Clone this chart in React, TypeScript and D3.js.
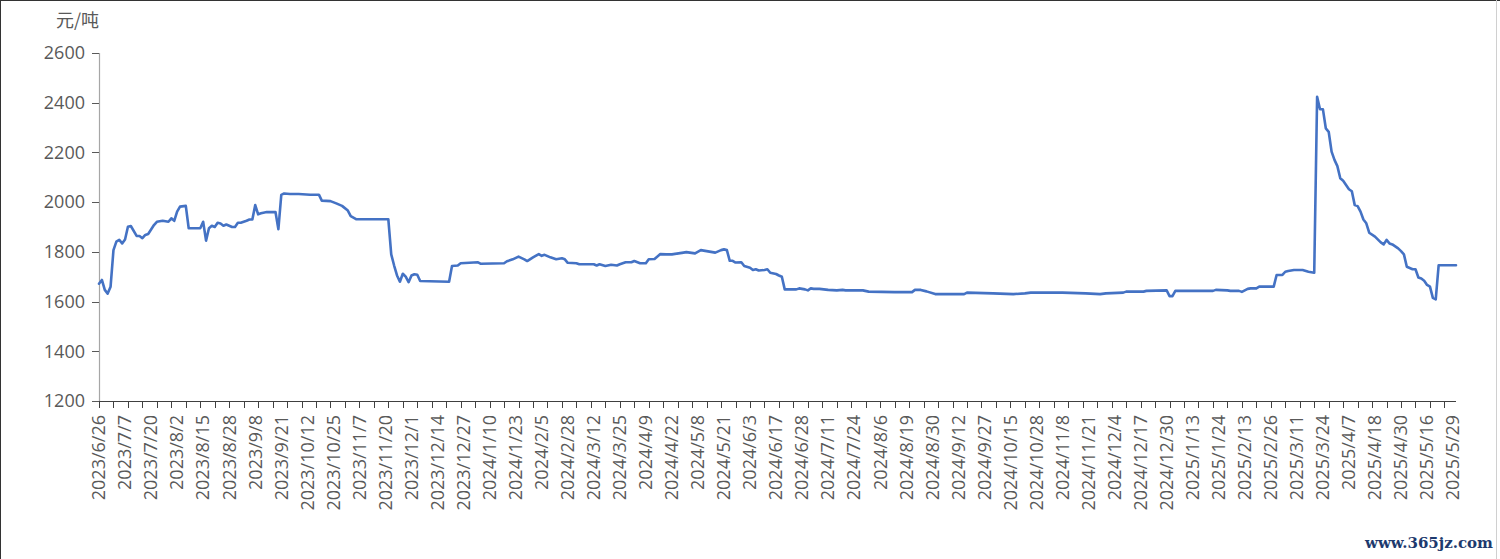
import React from "react";
import * as d3 from "d3";

// Category axis: trading days from 2023/6/26 (index 0) to 2025/5/30 (index 469)
const categoryCount = 470;
const labelStep = 9;
const tickStep = 5;

const xLabels = [
  "2023/6/26","2023/7/7","2023/7/20","2023/8/2","2023/8/15","2023/8/28","2023/9/8","2023/9/21",
  "2023/10/12","2023/10/25","2023/11/7","2023/11/20","2023/12/1","2023/12/14","2023/12/27",
  "2024/1/10","2024/1/23","2024/2/5","2024/2/28","2024/3/12","2024/3/25","2024/4/9","2024/4/22",
  "2024/5/8","2024/5/21","2024/6/3","2024/6/17","2024/6/28","2024/7/11","2024/7/24","2024/8/6",
  "2024/8/19","2024/8/30","2024/9/12","2024/9/27","2024/10/15","2024/10/28","2024/11/8",
  "2024/11/21","2024/12/4","2024/12/17","2024/12/30","2025/1/13","2025/1/24","2025/2/13",
  "2025/2/26","2025/3/11","2025/3/24","2025/4/7","2025/4/18","2025/4/30","2025/5/16","2025/5/29",
];

const yTicks = [1200, 1400, 1600, 1800, 2000, 2200, 2400, 2600];
const unitLabel = "元/吨";

// price readings (trading-day index, 元/吨)
const pointDay = [
  0,1,2,3,4,5,6,7,8,9,10,11,13,14,15,16,17,19,20,22,24,25,26,27,28,30,31,35,36,37,38,39,40,41,42,43,44,45,46,47,48,49,51,52,53,54,55,56,58,61,62,63,64,
  66,69,73,76,77,80,82,84,86,87,89,100,101,102,103,104,105,106,107,108,109,110,111,121,122,124,125,131,132,
  140,141,143,145,147,148,150,152,153,154,156,158,160,161,162,165,166,171,172,173,175,177,179,180,182,184,185,187,189,190,192,194,196,198,
  202,203,206,208,210,213,215,216,217,218,219,220,222,223,225,226,227,228,230,231,232,234,235,236,237,
  241,242,244,245,246,247,249,252,255,257,258,264,266,275,281,282,284,286,289,299,300,309,316,320,322,333,341,346,348,354,355,361,362,369,370,371,372,
  385,386,390,391,394,395,397,398,400,401,406,407,409,410,411,413,416,418,420,
  421,422,423,424,425,426,427,428,429,430,431,432,433,434,435,436,437,438,439,441,443,444,445,446,447,449,450,451,452,454,455,456,457,458,459,460,461,462,463,469,
];
const pointPrice = [
  1672,1687,1647,1632,1660,1807,1841,1848,1834,1850,1901,1904,1864,1864,1855,1868,1872,1908,1921,1925,1921,1935,1925,1962,1982,1985,1895,1895,1921,1845,1895,1905,1900,1917,1914,1905,1910,1905,1900,1900,1917,1917,1925,1930,1930,1988,1951,1955,1960,1960,1891,2029,2035,
  2033,2033,2030,2030,2006,2004,1995,1985,1966,1944,1931,1931,1790,1745,1705,1680,1712,1700,1678,1705,1710,1708,1683,1680,1743,1745,1754,1758,1752,
  1754,1762,1770,1781,1770,1763,1778,1791,1784,1788,1778,1770,1774,1770,1756,1754,1750,1750,1745,1750,1743,1748,1745,1750,1758,1758,1763,1754,1754,1770,1771,1791,1790,1790,
  1797,1799,1794,1807,1803,1797,1807,1810,1807,1764,1764,1757,1758,1743,1736,1727,1730,1725,1727,1730,1716,1711,1705,1700,1649,
  1649,1653,1649,1645,1653,1651,1651,1647,1645,1647,1645,1645,1640,1638,1638,1647,1647,1641,1630,1630,1636,1633,1630,1633,1636,1636,1633,1630,1633,1636,1640,1640,1643,1645,1622,1622,1643,
  1643,1647,1645,1643,1643,1639,1651,1653,1653,1660,1660,1707,1707,1720,1723,1727,1727,1720,1716,
  2424,2374,2374,2297,2283,2203,2170,2145,2096,2086,2069,2052,2044,1988,1984,1962,1930,1915,1877,1861,1838,1830,1848,1834,1830,1814,1803,1790,1740,1730,1730,1697,1693,1684,1667,1660,1615,1609,1746,1746,
];

const W = 1500;
const H = 559;
const plotLeft = 99;
const plotRight = 1456;
const plotTop = 53;
const plotBottom = 401;

export default function App() {
  const x = d3.scaleLinear().domain([0, categoryCount - 1]).range([plotLeft, plotRight]);
  const y = d3.scaleLinear().domain([1200, 2600]).range([plotBottom, plotTop]);

  const data = pointDay.map((d, i) => [d, pointPrice[i]] as [number, number]);
  const line = d3
    .line<[number, number]>()
    .x((d) => x(d[0]))
    .y((d) => y(d[1]))
    .curve(d3.curveLinear);

  const tickIdx = d3.range(0, categoryCount, tickStep);
  const labelFont = "'Open Sans', 'Noto Sans', sans-serif";

  return (
    <svg
      width={W}
      height={H}
      style={{ position: "absolute", left: 0, top: 0, background: "#fff" }}
    >
      <rect x={0} y={0} width={W} height={H} fill="#fff" />
      <line x1={0} y1={0.5} x2={W} y2={0.5} stroke="#333" strokeWidth={1} />
      <line x1={0.5} y1={0} x2={0.5} y2={H} stroke="#333" strokeWidth={1} />
      <line x1={1496.5} y1={0} x2={1496.5} y2={H} stroke="#d0d0d0" strokeWidth={1} />

      <text
        x={56}
        y={27}
        fontFamily="'Noto Sans CJK SC', sans-serif"
        fontSize={18}
        fill="#595959"
      >
        {unitLabel}
      </text>

      {/* y axis */}
      <line x1={plotLeft + 0.5} y1={plotTop} x2={plotLeft + 0.5} y2={plotBottom} stroke="#a6a6a6" strokeWidth={1.2} />
      {yTicks.map((t) => (
        <g key={t}>
          <line x1={plotLeft - 7} x2={plotLeft} y1={Math.round(y(t)) + 0.5} y2={Math.round(y(t)) + 0.5} stroke="#595959" strokeWidth={1} />
          <text
            x={85}
            y={y(t)}
            dy="0.35em"
            textAnchor="end"
            fontFamily={labelFont}
            fontSize={18}
            fill="#595959"
          >
            {t}
          </text>
        </g>
      ))}

      {/* x axis */}
      <line x1={plotLeft} y1={plotBottom + 0.5} x2={plotRight} y2={plotBottom + 0.5} stroke="#404040" strokeWidth={1.2} />
      {tickIdx.map((i) => (
        <line
          key={"t" + i}
          x1={Math.round(x(i)) + 0.5}
          x2={Math.round(x(i)) + 0.5}
          y1={plotBottom}
          y2={plotBottom + 7}
          stroke="#404040"
          strokeWidth={1}
        />
      ))}
      {xLabels.map((lab, k) => {
        const cx = x(k * labelStep);
        return (
          <text
            key={lab}
            transform={`translate(${cx},${plotBottom + 14}) rotate(-90)`}
            dy="0.35em"
            textAnchor="end"
            fontFamily={labelFont}
            fontSize={18}
            fill="#595959"
          >
            {lab}
          </text>
        );
      })}

      <path
        d={line(data) || ""}
        fill="none"
        stroke="#4472C4"
        strokeWidth={2.6}
        strokeLinejoin="round"
        strokeLinecap="round"
      />

      <text
        x={1493}
        y={548}
        textAnchor="end"
        fontFamily="'DejaVu Serif', serif"
        fontWeight="bold"
        fontSize={15}
        fill="#1d3a6e"
      >
        www.365jz.com
      </text>
    </svg>
  );
}
